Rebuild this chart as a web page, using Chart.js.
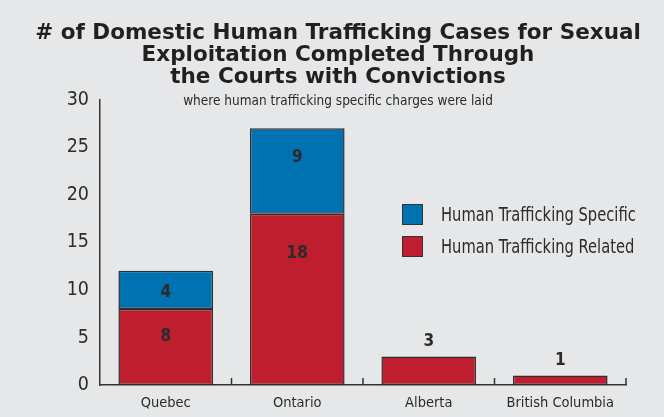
<!DOCTYPE html>
<html>
<head>
<meta charset="utf-8">
<script src="https://cdn.jsdelivr.net/npm/chart.js@4.4.0/dist/chart.umd.min.js"></script>
<style>
  html, body { margin: 0; padding: 0; background: #e6e7e8; }
  #wrap { position: relative; width: 664px; height: 417px; }
  #legend { position: absolute; left: 402px; top: 198px; font-family: "DejaVu Sans", sans-serif; font-stretch: condensed; font-size: 19px; color: #2b2b2b; white-space: nowrap; }
  .item { display: flex; align-items: center; height: 32px; }
  .box { width: 19px; height: 19px; border: 1.5px solid #333; margin-right: 18px; }
  .item span { display: inline-block; transform: scaleX(0.86); transform-origin: left center; }
</style>
</head>
<body>
<div id="wrap">
  <canvas id="chart" width="664" height="417"></canvas>
  <div id="legend"></div>
</div>
<script>
const FAMILY = '"DejaVu Sans", sans-serif';

const provinces = ['Quebec', 'Ontario', 'Alberta', 'British Columbia'];
const relatedCases = [8, 18, 3, 1];
const specificCases = [4, 9, null, null];
const yMax = 30;
const yStep = 5;

const titleLines = [
    '# of Domestic Human Trafficking Cases for Sexual',
    'Exploitation Completed Through',
    'the Courts with Convictions'
];
const subtitleText = 'where human trafficking specific charges were laid';

const RED = '#be1e2d';
const BLUE = '#0072b1';
const INK = '#2b2b2b';

// value labels on the bars
const barLabels = {
    id: 'barLabels',
    afterDatasetsDraw(chart) {
        const ctx = chart.ctx;
        ctx.save();
        ctx.font = 'condensed bold 17px ' + FAMILY;
        ctx.fillStyle = INK;
        ctx.textAlign = 'center';
        ctx.textBaseline = 'middle';
        chart.data.datasets.forEach((ds, di) => {
            const meta = chart.getDatasetMeta(di);
            meta.data.forEach((el, i) => {
                const v = ds.data[i];
                if (v === null || v === undefined) return;
                const h = el.base - el.y;
                const alone = chart.data.datasets.every((o, oi) => oi === di || !o.data[i]);
                let y;
                if (alone && h < 32) y = el.y - 15;
                else y = el.y + Math.min(h / 2 + 3, 18 + h * 0.13);
                ctx.fillText(String(v), el.x, y);
            });
        });
        ctx.restore();
    }
};

// small inward ticks between categories
const xTicks = {
    id: 'xTicks',
    afterDraw(chart) {
        const xs = chart.scales.x;
        const ctx = chart.ctx;
        const n = provinces.length;
        const w = (xs.right - xs.left) / n;
        ctx.save();
        ctx.strokeStyle = '#333';
        ctx.lineWidth = 1.5;
        for (let i = 1; i <= n; i++) {
            const x = xs.left + i * w;
            ctx.beginPath();
            ctx.moveTo(x, chart.chartArea.bottom);
            ctx.lineTo(x, chart.chartArea.bottom - 7);
            ctx.stroke();
        }
        ctx.restore();
    }
};

const chart = new Chart(document.getElementById('chart'), {
    type: 'bar',
    data: {
        labels: provinces,
        datasets: [
            {
                label: 'Human Trafficking Related',
                data: relatedCases,
                backgroundColor: RED,
                borderColor: '#2e2e2e',
                borderWidth: 1.5,
                borderSkipped: false
            },
            {
                label: 'Human Trafficking Specific',
                data: specificCases,
                backgroundColor: BLUE,
                borderColor: '#2e2e2e',
                borderWidth: 1.5,
                borderSkipped: false
            }
        ]
    },
    options: {
        responsive: false,
        animation: false,
        barPercentage: 0.72,
        categoryPercentage: 1,
        layout: { padding: { left: 12, right: 0, top: 0, bottom: 0 } },
        plugins: {
            legend: { display: false },
            tooltip: { enabled: false },
            title: {
                display: true,
                text: titleLines,
                color: '#231f20',
                font: { family: FAMILY, size: 21.5, weight: 'bold', lineHeight: 1.03 },
                padding: { top: 22, bottom: 0 }
            },
            subtitle: {
                display: true,
                text: subtitleText,
                color: INK,
                font: { family: FAMILY, size: 13.5, weight: 'condensed', lineHeight: 1.2 },
                padding: { top: 5, bottom: -10 }
            }
        },
        scales: {
            x: {
                stacked: true,
                grid: { display: false },
                border: { display: true, color: '#333', width: 1.5 },
                ticks: { color: INK, font: { family: FAMILY, size: 14.5, weight: 'condensed' }, padding: 2, maxRotation: 0, autoSkip: false },
                afterFit(scale) { scale.height = 32; }
            },
            y: {
                stacked: true,
                min: 0,
                max: yMax,
                grid: { display: false },
                border: { display: true, color: '#333', width: 1.5 },
                ticks: { stepSize: yStep, color: INK, font: { family: FAMILY, size: 19.5, weight: 'condensed' }, padding: 3 },
                afterFit(scale) { scale.width = 88; }
            },
            // empty axis that only reserves the right margin
            yRight: {
                position: 'right',
                display: true,
                grid: { display: false },
                border: { display: false },
                ticks: { display: false },
                afterFit(scale) { scale.width = 38; }
            }
        }
    },
    plugins: [barLabels, xTicks]
});

// legend (blue on top, as in the original)
const legendEl = document.getElementById('legend');
chart.data.datasets.slice().reverse().forEach(ds => {
    const item = document.createElement('div');
    item.className = 'item';
    const box = document.createElement('div');
    box.className = 'box';
    box.style.background = ds.backgroundColor;
    const txt = document.createElement('span');
    txt.textContent = ds.label;
    item.appendChild(box);
    item.appendChild(txt);
    legendEl.appendChild(item);
});
</script>
</body>
</html>
